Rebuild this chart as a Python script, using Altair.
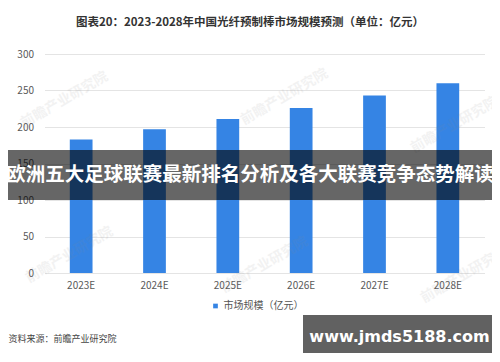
import altair as alt
import pandas as pd

# ---- data ----
years = ["2023E", "2024E", "2025E", "2026E", "2027E", "2028E"]
market_size = [183, 197, 211, 226, 243, 260]
series_name = "市场规模（亿元）"
y_ticks = [0, 50, 100, 150, 200, 250, 300]

title_text = "图表20：2023-2028年中国光纤预制棒市场规模预测（单位：亿元）"
source_text = "资料来源：前瞻产业研究院"
banner_text = "欧洲五大足球联赛最新排名分析及各大联赛竞争态势解读"
site_text = "www.jmds5188.com"
watermark_text = "前瞻产业研究院"

# decoration positions (pixels, relative to plot origin)
wm_x = [20, 240, 410, 25, 220, 420]
wm_y = [46, 43, 71, 201, 211, 221]

FONT = "Noto Sans CJK SC"
BAR = "#3584e4"

df = pd.DataFrame({"year": years, "value": market_size, "series": [series_name] * len(years)})
wm = pd.DataFrame({"px": wm_x, "py": wm_y, "t": [watermark_text] * len(wm_x)})

bars = alt.Chart(df).mark_bar().encode(
    x=alt.X("year:N", sort=years, title=None,
            scale=alt.Scale(paddingInner=0.69, paddingOuter=0.345),
            axis=alt.Axis(labelAngle=0, labelFontSize=10, labelColor="#595959", labelFont=FONT,
                          ticks=False, domain=False, labelPadding=7)),
    y=alt.Y("value:Q", title=None,
            scale=alt.Scale(domain=[0, 300], nice=False),
            axis=alt.Axis(values=y_ticks, labelFontSize=10, labelColor="#595959", labelFont=FONT,
                          ticks=False, domain=False, labelPadding=11,
                          gridColor="#e4e4e4", gridWidth=1)),
    color=alt.Color("series:N", scale=alt.Scale(range=[BAR]),
                    legend=alt.Legend(title=None, orient="none", legendX=166, legendY=247,
                                      symbolType="square", symbolSize=22, symbolStrokeWidth=0,
                                      labelFontSize=10, labelColor="#555555", labelFont=FONT,
                                      labelOffset=3, padding=0)),
)

marks_wm = alt.Chart(wm).mark_text(
    font=FONT, fontSize=14, fontWeight="bold", angle=330, color="#8a8a8a", opacity=0.1
).encode(x=alt.X("px:Q", scale=None), y=alt.Y("py:Q", scale=None), text="t:N")

title = alt.Chart(pd.DataFrame({"t": [title_text]})).mark_text(
    font=FONT, fontSize=11.5, fontWeight="bold", color="#333333"
).encode(x=alt.value(205.5), y=alt.value(-31), text="t:N")

source = alt.Chart(pd.DataFrame({"t": [source_text]})).mark_text(
    font=FONT, fontSize=9, color="#444444", align="left"
).encode(x=alt.value(-36), y=alt.value(285), text="t:N")

band = alt.Chart(pd.DataFrame({"a": [0]})).mark_rect(color="#000000", opacity=0.6).encode(
    x=alt.value(-36.5), x2=alt.value(447.5), y=alt.value(96), y2=alt.value(146))

band_text = alt.Chart(pd.DataFrame({"t": [banner_text]})).mark_text(
    font=FONT, fontSize=19.5, fontWeight="bold", color="#ffffff"
).encode(x=alt.value(205.5), y=alt.value(121), text="t:N")

box = alt.Chart(pd.DataFrame({"a": [0]})).mark_rect(color="#000000", opacity=0.62).encode(
    x=alt.value(258.5), x2=alt.value(447.5), y=alt.value(261), y2=alt.value(299))

box_text = alt.Chart(pd.DataFrame({"t": [site_text]})).mark_text(
    font="DejaVu Sans", fontSize=16, fontWeight="bold", color="#ffffff"
).encode(x=alt.value(355), y=alt.value(283), text="t:N")

chart = alt.layer(bars, marks_wm, title, source, band, band_text, box, box_text).properties(
    width=440, height=219,
    padding={"left": 36.5, "top": 46, "right": 7.5, "bottom": 80},
    autosize=alt.AutoSizeParams(type="none"),
).configure_view(stroke=None)

chart.save("out.html", embed_options={"renderer": "svg", "actions": False})
